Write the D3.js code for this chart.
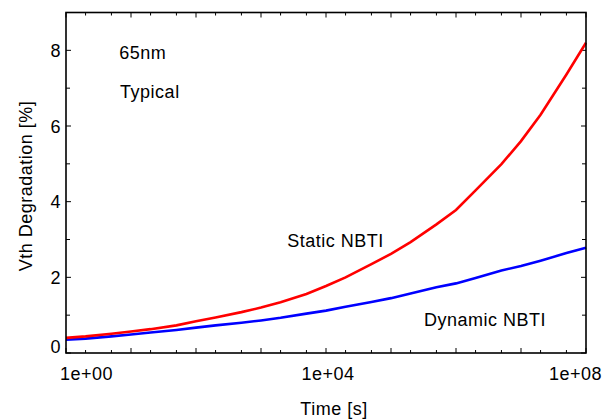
<!DOCTYPE html>
<html>
<head>
<meta charset="utf-8">
<script src="https://cdn.jsdelivr.net/npm/d3@7"></script>
<style>
  body { margin: 0; background: #fff; }
  text { font-family: "Liberation Sans", Arial, Helvetica, sans-serif; fill: #000; letter-spacing: 0.5px; }
</style>
</head>
<body>
<div id="chart"></div>
<script>
// Time points [s] (1, 2, 5 per decade)
let times = [1, 2, 5, 1e1, 2e1, 5e1, 1e2, 2e2, 5e2, 1e3, 2e3, 5e3, 1e4, 2e4, 5e4,
             1e5, 2e5, 5e5, 1e6, 2e6, 5e6, 1e7, 2e7, 5e7, 1e8]

// Vth degradation [%]
let staticNBTI = [0.40, 0.44, 0.51, 0.57, 0.63, 0.73, 0.84, 0.94, 1.08, 1.20, 1.34, 1.56, 1.77,
                  2.00, 2.35, 2.62, 2.93, 3.40, 3.78, 4.30, 4.99, 5.60, 6.30, 7.36, 8.20]
let dynamicNBTI = [0.35, 0.38, 0.44, 0.49, 0.54, 0.61, 0.67, 0.73, 0.80, 0.86, 0.93, 1.04, 1.12,
                   1.22, 1.35, 1.45, 1.57, 1.74, 1.84, 1.98, 2.18, 2.30, 2.44, 2.64, 2.78]

let xTickLabels = ['1e+00', '1e+04', '1e+08']
let xLabelValues = [1, 1e4, 1e8]
let yTickLabels = [0, 2, 4, 6, 8]

// annotations, in data coordinates [time, value]
let notes = [
  { text: '65nm', t: 6.6, v: 7.76 },
  { text: 'Typical', t: 6.8, v: 6.73 },
  { text: 'Static NBTI', t: 2540, v: 2.81 },
  { text: 'Dynamic NBTI', t: 3.22e5, v: 0.71 }
]

let width = 611, height = 420
let margin = { left: 66, right: 25, top: 12.5, bottom: 67 }

let svg = d3.select('#chart').append('svg')
  .attr('width', width)
  .attr('height', height)

let x = d3.scaleLog()
  .domain([1, 1e8])
  .range([margin.left, width - margin.right])

let y = d3.scaleLinear()
  .domain([0, 9])
  .range([height - margin.bottom, margin.top])

let x0 = x.range()[0], x1 = x.range()[1]
let y0 = y.range()[0], y1 = y.range()[1]

// minor/major ticks on log axis: 1, 2, 5 per decade
let xTicks = []
for (let e = 0; e <= 8; e++) {
  [1, 2, 5].forEach(m => {
    let v = m * Math.pow(10, e)
    if (v <= 1e8) xTicks.push({ v: v, major: m === 1 })
  })
}
let yTicks = d3.range(0, 10).map(v => ({ v: v, major: v % 2 === 0 }))

let tickG = svg.append('g').attr('stroke', '#000').attr('stroke-width', 1)

// bottom & top ticks (inward)
tickG.selectAll('.xb').data(xTicks).join('line')
  .attr('x1', d => x(d.v)).attr('x2', d => x(d.v))
  .attr('y1', y0).attr('y2', d => y0 - (d.major ? 5 : 3))
tickG.selectAll('.xt').data(xTicks).join('line')
  .attr('x1', d => x(d.v)).attr('x2', d => x(d.v))
  .attr('y1', y1).attr('y2', d => y1 + (d.major ? 5 : 3))

// left & right ticks (inward)
tickG.selectAll('.yl').data(yTicks).join('line')
  .attr('y1', d => y(d.v)).attr('y2', d => y(d.v))
  .attr('x1', x0).attr('x2', d => x0 + (d.major ? 5 : 4))
tickG.selectAll('.yr').data(yTicks).join('line')
  .attr('y1', d => y(d.v)).attr('y2', d => y(d.v))
  .attr('x1', x1).attr('x2', d => x1 - (d.major ? 5 : 4))

// lines
let line = d3.line()
  .x((d, i) => x(times[i]))
  .y(d => y(d))

svg.append('path')
  .datum(dynamicNBTI)
  .attr('fill', 'none')
  .attr('stroke', '#0000ff')
  .attr('stroke-width', 2.6)
  .attr('d', line)

svg.append('path')
  .datum(staticNBTI)
  .attr('fill', 'none')
  .attr('stroke', '#ff0000')
  .attr('stroke-width', 2.6)
  .attr('d', line)

// frame
svg.append('rect')
  .attr('x', x0).attr('y', y1)
  .attr('width', x1 - x0).attr('height', y0 - y1)
  .attr('fill', 'none')
  .attr('stroke', '#000')
  .attr('stroke-width', 1.6)

// x tick labels
let anchors = ['start', 'middle', 'end']
let xOff = [-6, 2, 16]
svg.selectAll('.xlab').data(xTickLabels).join('text')
  .attr('x', (d, i) => x(xLabelValues[i]) + xOff[i])
  .attr('y', y0 + 27)
  .attr('text-anchor', (d, i) => anchors[i])
  .attr('font-size', 18)
  .text(d => d)

// y tick labels
svg.selectAll('.ylab').data(yTickLabels).join('text')
  .attr('x', x0 - 5)
  .attr('y', d => y(d) + (d === 0 ? 0 : 6.5))
  .attr('text-anchor', 'end')
  .attr('font-size', 18)
  .text(d => d)

// axis titles
svg.append('text')
  .attr('x', 334)
  .attr('y', 415)
  .attr('text-anchor', 'middle')
  .attr('font-size', 18)
  .text('Time [s]')

svg.append('text')
  .attr('transform', 'translate(32,186) rotate(-90)')
  .attr('text-anchor', 'middle')
  .attr('font-size', 18)
  .text('Vth Degradation [%]')

// annotations
svg.selectAll('.note').data(notes).join('text')
  .attr('x', d => x(d.t))
  .attr('y', d => y(d.v))
  .attr('font-size', 18)
  .text(d => d.text)
</script>
</body>
</html>
